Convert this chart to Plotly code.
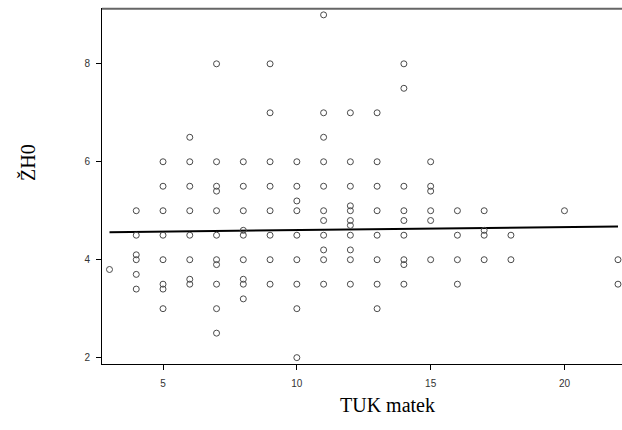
import plotly.graph_objects as go

# TUK matek (x) and ŽH0 (y) values, grouped by x column
x3 = [3.8]
x4 = [5.0, 4.5, 4.1, 4.0, 3.7, 3.4]
x5 = [6.0, 5.5, 5.0, 4.5, 4.0, 3.5, 3.4, 3.0]
x6 = [6.5, 6.0, 5.5, 5.0, 4.5, 4.0, 3.6, 3.5]
x7 = [8.0, 6.0, 5.5, 5.4, 5.0, 4.5, 4.0, 3.9, 3.5, 3.0, 2.5]
x8 = [6.0, 5.5, 5.0, 4.6, 4.5, 4.0, 3.6, 3.5, 3.2]
x9 = [8.0, 7.0, 6.0, 5.5, 5.0, 4.5, 4.0, 3.5]
x10 = [6.0, 5.5, 5.2, 5.0, 4.5, 4.0, 3.5, 3.0, 2.0]
x11 = [9.0, 7.0, 6.5, 6.0, 5.5, 5.0, 4.8, 4.5, 4.2, 4.0, 3.5]
x12 = [7.0, 6.0, 5.5, 5.1, 5.0, 4.8, 4.7, 4.5, 4.2, 4.0, 3.5]
x13 = [7.0, 6.0, 5.5, 5.0, 4.5, 4.0, 3.5, 3.0]
x14 = [8.0, 7.5, 5.5, 5.0, 4.8, 4.5, 4.0, 3.9, 3.5]
x15 = [6.0, 5.5, 5.4, 5.0, 4.8, 4.0]
x16 = [5.0, 4.5, 4.0, 3.5]
x17 = [5.0, 4.6, 4.5, 4.0]
x18 = [4.5, 4.0]
x20 = [5.0]
x22 = [4.0, 3.5]

columns = {3: x3, 4: x4, 5: x5, 6: x6, 7: x7, 8: x8, 9: x9, 10: x10, 11: x11,
           12: x12, 13: x13, 14: x14, 15: x15, 16: x16, 17: x17, 18: x18,
           20: x20, 22: x22}

tuk = []
zh0 = []
for k, vals in columns.items():
    for v in vals:
        tuk.append(k)
        zh0.append(v)

# fit line endpoints
fit_x = [3, 22]
fit_y = [4.56, 4.68]

x_ticks = [5, 10, 15, 20]
y_ticks = [2, 4, 6, 8]

fig = go.Figure()
fig.add_trace(go.Scatter(
    x=fit_x, y=fit_y, mode="lines",
    line=dict(color="black", width=2), hoverinfo="skip", showlegend=False))
fig.add_trace(go.Scatter(
    x=tuk, y=zh0, mode="markers",
    marker=dict(symbol="circle-open", size=6, color="#4a4a4a",
                line=dict(width=1, color="#4a4a4a")),
    showlegend=False))

fig.update_layout(
    width=622, height=430,
    margin=dict(l=102, r=0, t=8, b=66),
    paper_bgcolor="white", plot_bgcolor="white",
    font=dict(family="Liberation Sans, Arial", size=10, color="#333333"),
    xaxis=dict(range=[2.72, 22.15], tickvals=x_ticks, ticks="outside",
               ticklen=5, tickcolor="black", showgrid=False, zeroline=False,
               showline=True, linecolor="black", linewidth=1,
               ticklabelstandoff=5),
    yaxis=dict(range=[1.87, 9.14], tickvals=y_ticks, ticks="outside",
               ticklen=5, tickcolor="black", showgrid=False, zeroline=False,
               showline=True, linecolor="black", linewidth=1,
               ticklabelstandoff=4),
    shapes=[dict(type="line", xref="paper", yref="paper", x0=0, x1=1,
                 y0=0.998, y1=0.998, line=dict(color="#666666", width=2),
                 layer="above")],
    annotations=[
        dict(text="TUK matek", xref="paper", yref="paper",
             x=(387 - 102) / 520, y=-(405 - 364) / 356,
             showarrow=False, xanchor="center", yanchor="middle",
             font=dict(family="Liberation Serif, Times New Roman", size=20,
                       color="black")),
        dict(text="ŽH0", xref="paper", yref="paper",
             x=(28 - 102) / 520, y=(364 - 163) / 356, textangle=-90,
             showarrow=False, xanchor="center", yanchor="middle",
             font=dict(family="Liberation Serif, Times New Roman", size=20,
                       color="black")),
    ],
)

fig.write_html("out.html")
